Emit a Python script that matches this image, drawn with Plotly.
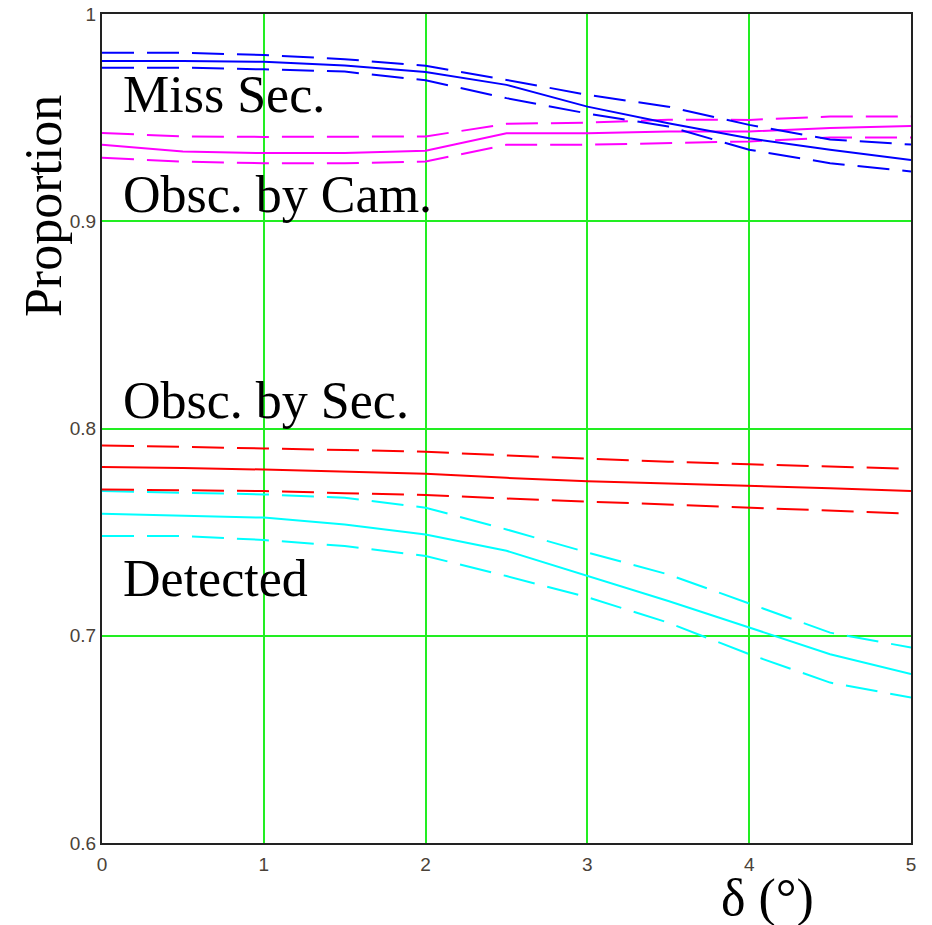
import plotly.graph_objects as go

# Offset angle delta (degrees)
delta = [0, 0.5, 1, 1.5, 2, 2.5, 3, 3.5, 4, 4.5, 5]

# Miss Sec. (mean and interval bounds)
miss_mean = [0.9773, 0.9773, 0.9769, 0.9751, 0.9720, 0.9658, 0.9553, 0.9473, 0.9400, 0.9345, 0.9296]
miss_hi = [0.9813, 0.9813, 0.9802, 0.9782, 0.9750, 0.9682, 0.9610, 0.9553, 0.9465, 0.9395, 0.9370]
miss_lo = [0.9741, 0.9741, 0.9733, 0.9722, 0.9680, 0.9594, 0.9520, 0.9457, 0.9345, 0.9280, 0.9240]

# Obsc. by Cam.
cam_mean = [0.9369, 0.9336, 0.9329, 0.9329, 0.9340, 0.9425, 0.9425, 0.9433, 0.9433, 0.9450, 0.9460]
cam_hi = [0.9426, 0.9409, 0.9407, 0.9407, 0.9409, 0.9470, 0.9476, 0.9490, 0.9489, 0.9505, 0.9505]
cam_lo = [0.9306, 0.9288, 0.9280, 0.9280, 0.9288, 0.9369, 0.9369, 0.9378, 0.9385, 0.9404, 0.9404]

# Obsc. by Sec.
sec_mean = [0.7814, 0.7810, 0.7802, 0.7792, 0.7782, 0.7762, 0.7746, 0.7735, 0.7725, 0.7712, 0.7698]
sec_hi = [0.7918, 0.7912, 0.7904, 0.7896, 0.7888, 0.7870, 0.7854, 0.7840, 0.7827, 0.7816, 0.7806]
sec_lo = [0.7706, 0.7702, 0.7698, 0.7688, 0.7679, 0.7662, 0.7647, 0.7632, 0.7618, 0.7603, 0.7589]

# Detected
det_mean = [0.7589, 0.7578, 0.7570, 0.7537, 0.7489, 0.7410, 0.7288, 0.7168, 0.7040, 0.6911, 0.6815]
det_hi = [0.7698, 0.7690, 0.7682, 0.7666, 0.7618, 0.7513, 0.7402, 0.7296, 0.7157, 0.7015, 0.6943]
det_lo = [0.7481, 0.7481, 0.7462, 0.7433, 0.7385, 0.7288, 0.7186, 0.7063, 0.6911, 0.6774, 0.6702]

x_ticks = [0, 1, 2, 3, 4, 5]
x_tick_text = ["0", "1", "2", "3", "4", "5"]
y_ticks = [0.6, 0.7, 0.8, 0.9, 1.0]
y_tick_text = ["0.6", "0.7", "0.8", "0.9", "1"]

groups = [
    ("Detected", "#00ffff", det_mean, det_hi, det_lo),
    ("Obsc. by Sec.", "#ff0000", sec_mean, sec_hi, sec_lo),
    ("Obsc. by Cam.", "#ff00ff", cam_mean, cam_hi, cam_lo),
    ("Miss Sec.", "#0000ff", miss_mean, miss_hi, miss_lo),
]

fig = go.Figure()
for name, color, mean, hi, lo in groups:
    for ys, dash in ((hi, "32px,13px"), (lo, "32px,13px"), (mean, "solid")):
        fig.add_trace(go.Scatter(
            x=delta, y=ys, mode="lines", name=name, showlegend=False,
            line=dict(color=color, width=2, dash=dash),
        ))

serif = "Liberation Serif, Times New Roman, serif"
labels = [
    ("Miss Sec.", 0.9612),
    ("Obsc. by Cam.", 0.9128),
    ("Obsc. by Sec.", 0.8135),
    ("Detected", 0.7275),
]
for text, yv in labels:
    fig.add_annotation(x=0.12, y=yv, xref="x", yref="y", text=text, showarrow=False,
                       xanchor="left", yanchor="middle",
                       font=dict(family=serif, size=52, color="#000000"))

fig.add_annotation(x=0.823, y=-0.066, xref="paper", yref="paper", text="δ (°)",
                   showarrow=False, xanchor="center", yanchor="middle",
                   font=dict(family=serif, size=52, color="#000000"))
fig.add_annotation(x=-0.072, y=0.768, xref="paper", yref="paper", text="Proportion",
                   showarrow=False, textangle=-90, xanchor="center", yanchor="middle",
                   font=dict(family=serif, size=52, color="#000000"))

tick_font = dict(family="Liberation Sans, Arial, sans-serif", size=19, color="#4a4238")
fig.update_xaxes(range=[0, 5], tickvals=x_ticks, ticktext=x_tick_text,
                 showgrid=True, gridcolor="#22ee22", gridwidth=2, zeroline=False,
                 showline=True, linecolor="#222222", linewidth=2, mirror=True,
                 ticks="", tickfont=tick_font, automargin=False, ticklabelstandoff=3)
fig.update_yaxes(range=[0.6, 1.0], tickvals=y_ticks, ticktext=y_tick_text,
                 showgrid=True, gridcolor="#22ee22", gridwidth=2, zeroline=False,
                 showline=True, linecolor="#222222", linewidth=2, mirror=True,
                 ticks="", tickfont=tick_font, automargin=False)

fig.update_layout(
    width=932, height=925,
    margin=dict(l=102, r=21, t=14, b=82),
    paper_bgcolor="white", plot_bgcolor="white",
    showlegend=False,
)

fig.write_html("out.html")
